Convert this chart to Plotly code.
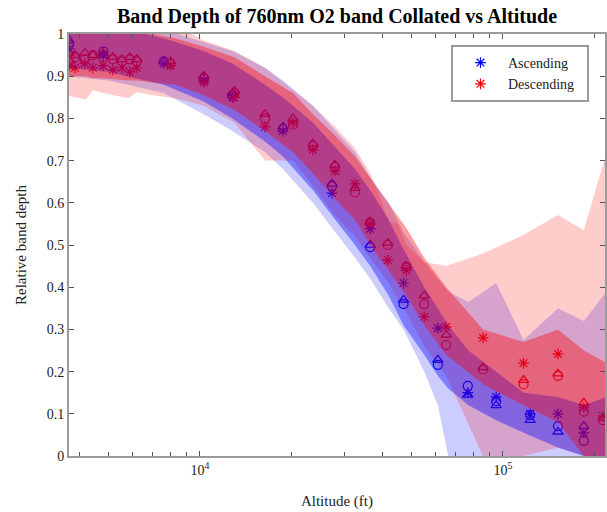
import plotly.graph_objects as go

# ---------------- data ----------------
# Ascending (blue) binned points: altitude (ft) and band depth for three flights
asc_alt = [3700, 4800, 7600, 10300, 12800, 18800, 27300, 36500, 47000, 61000, 76600, 95000, 123000, 152000, 185000]
asc_star = [0.965, 0.950, 0.930, 0.890, 0.850, 0.770, 0.623, 0.538, 0.410, 0.303, 0.150, 0.140, 0.100, 0.100, 0.055]
asc_circ = [0.975, 0.958, 0.935, 0.895, 0.855, 0.775, 0.640, 0.495, 0.360, 0.216, 0.166, 0.130, 0.097, 0.071, 0.036]
asc_tri = [0.985, 0.950, 0.935, 0.900, 0.860, 0.780, 0.645, 0.500, 0.370, 0.228, 0.145, 0.120, 0.085, 0.057, 0.071]

# Descending (red) binned points
desc_alt = [3700, 3870, 4170, 4430, 4790, 5160, 5530, 5870, 6190, 8000, 10300, 13000, 16400, 20300,
            23600, 27900, 32500, 36400, 41700, 48000, 55000, 65000, 86000, 117000, 152000, 185000, 214000]
desc_star = [0.925, 0.920, 0.930, 0.920, 0.925, 0.915, 0.920, 0.910, 0.920, 0.925, 0.885, 0.850, 0.780, 0.790,
             0.725, 0.675, 0.645, 0.550, 0.464, 0.440, 0.330, 0.306, 0.280, 0.220, 0.242, 0.115, 0.095]
desc_circ = [0.935, 0.945, 0.940, 0.950, 0.945, 0.940, 0.935, 0.940, 0.935, 0.930, 0.895, 0.860, 0.800, 0.785,
             0.735, 0.685, 0.625, 0.553, 0.500, 0.448, 0.360, 0.263, 0.205, 0.170, 0.190, 0.105, 0.085]
desc_tri = [0.955, 0.950, 0.955, 0.950, 0.955, 0.945, 0.940, 0.945, 0.940, 0.935, 0.900, 0.865, 0.810, 0.800,
            0.740, 0.690, 0.635, 0.555, 0.505, 0.450, 0.380, 0.287, 0.210, 0.180, 0.195, 0.126, 0.090]

# Ascending spread bands (inner and outer)
asc_band_alt = [3600, 5000, 7600, 10300, 12800, 16400, 18800, 23600, 27300, 32500, 36500, 42000, 47000,
                55000, 61000, 66000, 77000, 95000, 117000, 152000, 185000, 220000]
asc_in_lo = [0.92, 0.91, 0.88, 0.84, 0.80, 0.745, 0.71, 0.63, 0.57, 0.50, 0.45, 0.38, 0.31,
             0.24, 0.19, 0.16, 0.12, 0.085, 0.055, 0.02, 0.0, 0.0]
asc_in_hi = [1.02, 1.02, 0.99, 0.96, 0.93, 0.88, 0.85, 0.79, 0.74, 0.68, 0.63, 0.56, 0.49,
             0.40, 0.35, 0.31, 0.25, 0.20, 0.15, 0.14, 0.12, 0.14]
asc_out_lo = [0.90, 0.89, 0.86, 0.81, 0.77, 0.72, 0.68, 0.60, 0.54, 0.47, 0.42, 0.35, 0.30,
              0.20, 0.12, 0.0, 0.0, 0.0, 0.0, 0.0, 0.0, 0.0]
asc_out_hi = [1.02, 1.02, 1.01, 0.98, 0.96, 0.92, 0.89, 0.83, 0.78, 0.72, 0.66, 0.60, 0.53,
              0.46, 0.42, 0.39, 0.365, 0.41, 0.275, 0.35, 0.32, 0.39]

# Descending spread bands (inner and outer)
desc_band_alt = [3600, 4200, 4450, 4800, 5800, 6200, 7000, 8300, 10300, 13000, 16400, 20300, 23600, 27900,
                 32500, 36500, 39000, 42000, 45000, 48000, 55000, 65000, 86000, 117000, 152000, 185000, 220000]
desc_in_lo = [0.90, 0.90, 0.895, 0.895, 0.89, 0.89, 0.885, 0.88, 0.855, 0.82, 0.77, 0.72, 0.67, 0.61,
              0.56, 0.50, 0.47, 0.44, 0.41, 0.38, 0.31, 0.24, 0.17, 0.12, 0.08, 0.0, 0.0]
desc_in_hi = [1.02, 1.02, 1.02, 1.02, 1.01, 1.0, 1.0, 0.99, 0.97, 0.945, 0.90, 0.86, 0.81, 0.76,
              0.71, 0.66, 0.63, 0.60, 0.57, 0.54, 0.47, 0.40, 0.30, 0.27, 0.30, 0.25, 0.22]
desc_out_lo = [0.855, 0.845, 0.867, 0.86, 0.848, 0.862, 0.855, 0.848, 0.83, 0.79, 0.70, 0.70, 0.64, 0.57,
               0.52, 0.47, 0.44, 0.41, 0.37, 0.34, 0.26, 0.19, 0.0, 0.0, 0.02, 0.0, 0.0]
desc_out_hi = [1.02, 1.02, 1.02, 1.02, 1.02, 1.02, 1.02, 1.02, 0.985, 0.96, 0.92, 0.867, 0.83, 0.78,
               0.73, 0.67, 0.62, 0.555, 0.55, 0.50, 0.46, 0.45, 0.48, 0.524, 0.571, 0.535, 0.72]

x_tick_vals = [1e4, 1e5]
x_tick_text = ["10<sup>4</sup>", "10<sup>5</sup>"]
x_minor_vals = [4000, 5000, 6000, 7000, 8000, 9000, 20000, 30000, 40000, 50000, 60000, 70000, 80000, 90000, 200000]

BLUE = "rgb(0,0,255)"
RED = "rgb(255,0,0)"
FONT = "Liberation Serif"
PAD = "\u2002"

fig = go.Figure()


def add_points(alt, vals, color, symbol, name, show):
    fig.add_trace(go.Scatter(
        x=alt, y=vals, mode="markers", name=name, showlegend=show,
        marker=dict(symbol=symbol, size=9, color=color, line=dict(color=color, width=1.2)),
        hoverinfo="skip"))


add_points(asc_alt, asc_circ, BLUE, "circle-open", "Ascending", False)
add_points(asc_alt, asc_tri, BLUE, "triangle-up-open", "Ascending", False)
add_points(desc_alt, desc_circ, RED, "circle-open", "Descending", False)
add_points(desc_alt, desc_tri, RED, "triangle-up-open", "Descending", False)
add_points(asc_alt, asc_star, BLUE, "asterisk-open", "Ascending" + PAD, True)
add_points(desc_alt, desc_star, RED, "asterisk-open", "Descending" + PAD, True)


def add_band(alt, lo, hi, fill):
    fig.add_trace(go.Scatter(
        x=list(alt) + list(alt)[::-1], y=list(hi) + list(lo)[::-1],
        mode="lines", fill="toself", fillcolor=fill, line=dict(width=0),
        showlegend=False, hoverinfo="skip"))


add_band(asc_band_alt, asc_out_lo, asc_out_hi, "rgba(0,0,255,0.20)")
add_band(desc_band_alt, desc_out_lo, desc_out_hi, "rgba(255,0,0,0.20)")
add_band(asc_band_alt, asc_in_lo, asc_in_hi, "rgba(0,0,255,0.38)")
add_band(desc_band_alt, desc_in_lo, desc_in_hi, "rgba(255,0,0,0.38)")

axis_common = dict(
    showline=True, linecolor="#9a9a9a", linewidth=2, mirror="ticks",
    ticks="inside", tickcolor="#555", ticklen=5, tickwidth=1,
    showgrid=False, zeroline=False, automargin=False,
    tickfont=dict(family=FONT, size=14, color="#222"),
)

fig.update_layout(
    width=607, height=512,
    margin=dict(l=69, r=2, t=34, b=56),
    paper_bgcolor="white", plot_bgcolor="white",
    title=dict(text="<b>Band Depth of 760nm O2 band Collated vs Altitude</b>",
               x=337 / 607, xanchor="center", y=1 - 16 / 512, yanchor="middle",
               font=dict(family=FONT, size=20, color="black")),
    xaxis=dict(type="log", range=[3.568, 5.337],
               tickvals=x_tick_vals, ticktext=x_tick_text,
               minor=dict(ticks="inside", ticklen=4, tickcolor="#555", tickvals=x_minor_vals),
               title=dict(text="Altitude (ft)", font=dict(family=FONT, size=15, color="#222"), standoff=19),
               **axis_common),
    yaxis=dict(range=[0, 1], dtick=0.1, tick0=0,
               title=dict(text="Relative band depth", font=dict(family=FONT, size=15, color="#222"), standoff=16),
               **axis_common),
    legend=dict(x=(451 - 69) / 536, y=(456 - 45) / 422, xanchor="left", yanchor="top",
                bgcolor="white", bordercolor="#9a9a9a", borderwidth=2,
                font=dict(family=FONT, size=14, color="#222"),
                itemwidth=45, tracegroupgap=0),
    showlegend=True,
)

fig.write_html("out.html", config={"displayModeBar": False},
               post_script="document.body.style.margin='0';document.body.style.overflow='hidden';")
